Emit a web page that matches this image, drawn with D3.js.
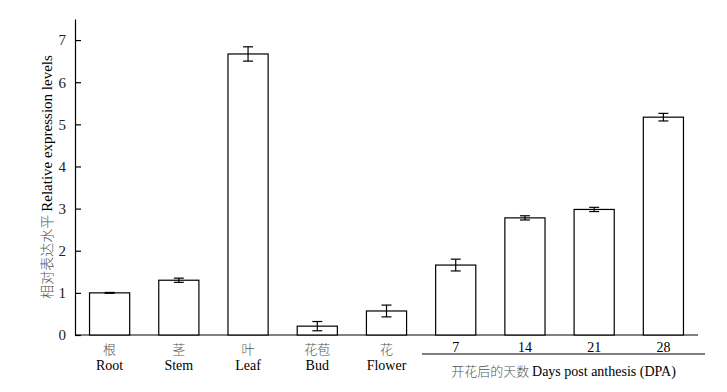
<!DOCTYPE html>
<html>
<head>
<meta charset="utf-8">
<script src="https://cdn.jsdelivr.net/npm/d3@7"></script>
<style>
  body { margin: 0; background: #fff; }
  svg text { font-family: 'Liberation Serif', 'Times New Roman', 'DejaVu Serif', serif; }
  svg text .zh, svg text.zh { font-family: 'Noto Sans CJK SC', sans-serif; font-weight: 300; }
</style>
</head>
<body>
<div id="chart"></div>
<script>
// tissues + days post anthesis
const categories = ['Root', 'Stem', 'Leaf', 'Bud', 'Flower', '7', '14', '21', '28'];
const zhLabels = ['根', '茎', '叶', '花苞', '花', '', '', '', ''];
const enLabels = ['Root', 'Stem', 'Leaf', 'Bud', 'Flower', '', '', '', ''];
const dpaLabels = ['7', '14', '21', '28'];
const values = [1.0, 1.3, 6.67, 0.21, 0.57, 1.66, 2.78, 2.98, 5.17];
const errors = [0.01, 0.05, 0.17, 0.11, 0.14, 0.14, 0.05, 0.05, 0.09];
const yTicks = [0, 1, 2, 3, 4, 5, 6, 7];

const width = 727, height = 392;
const margin = { top: 19, right: 29, bottom: 57, left: 75 };
const plotBottom = height - margin.bottom;
const serif = "'Liberation Serif', 'Times New Roman', 'DejaVu Serif', serif";

const svg = d3.select('#chart')
  .append('svg')
  .attr('width', width)
  .attr('height', height);

const x = d3.scaleBand()
  .domain(categories)
  .range([margin.left, width - margin.right])
  .paddingInner(0.42)
  .paddingOuter(0.21);

const y = d3.scaleLinear()
  .domain([0, 7.5])
  .range([plotBottom, margin.top]);

// Y axis, ticks pointing inward
const yAxis = svg.append('g')
  .attr('transform', `translate(${margin.left},0)`)
  .call(d3.axisLeft(y).tickValues(yTicks).tickSizeInner(-6).tickSizeOuter(0).tickPadding(9));
yAxis.attr('font-family', serif);
yAxis.select('.domain').attr('stroke-width', 1.2);
yAxis.selectAll('.tick line').attr('stroke-width', 1.2);
yAxis.selectAll('text')
  .style('font-size', '15px')
  .style('font-family', serif)
  .attr('fill', '#222');

// X axis baseline only
svg.append('line')
  .attr('x1', margin.left)
  .attr('x2', width - margin.right)
  .attr('y1', plotBottom)
  .attr('y2', plotBottom)
  .attr('stroke', '#000')
  .attr('stroke-width', 1.2);

// Bars
svg.selectAll('.bar')
  .data(categories)
  .enter().append('rect')
  .attr('class', 'bar')
  .attr('x', d => x(d))
  .attr('width', x.bandwidth())
  .attr('y', (d, i) => y(values[i]))
  .attr('height', (d, i) => plotBottom - y(values[i]))
  .attr('fill', '#fff')
  .attr('stroke', '#000')
  .attr('stroke-width', 1.2);

// Error bars
const cap = 5;
const eb = svg.selectAll('.err')
  .data(categories)
  .enter().append('g')
  .attr('class', 'err')
  .attr('stroke', '#000')
  .attr('stroke-width', 1.2);
eb.append('line')
  .attr('x1', d => x(d) + x.bandwidth() / 2)
  .attr('x2', d => x(d) + x.bandwidth() / 2)
  .attr('y1', (d, i) => y(values[i] + errors[i]))
  .attr('y2', (d, i) => y(values[i] - errors[i]));
eb.append('line')
  .attr('x1', d => x(d) + x.bandwidth() / 2 - cap)
  .attr('x2', d => x(d) + x.bandwidth() / 2 + cap)
  .attr('y1', (d, i) => y(values[i] + errors[i]))
  .attr('y2', (d, i) => y(values[i] + errors[i]));
eb.append('line')
  .attr('x1', d => x(d) + x.bandwidth() / 2 - cap)
  .attr('x2', d => x(d) + x.bandwidth() / 2 + cap)
  .attr('y1', (d, i) => y(values[i] - errors[i]))
  .attr('y2', (d, i) => y(values[i] - errors[i]));

// Category labels (Chinese + English)
const lab = svg.selectAll('.cat')
  .data(categories.slice(0, 5))
  .enter().append('g')
  .attr('class', 'cat');
lab.append('text')
  .attr('class', 'zh')
  .attr('x', d => x(d) + x.bandwidth() / 2)
  .attr('y', plotBottom + 19)
  .attr('text-anchor', 'middle')
  .style('font-size', '13px')
  .attr('fill', '#555')
  .text((d, i) => zhLabels[i]);
lab.append('text')
  .attr('x', d => x(d) + x.bandwidth() / 2)
  .attr('y', plotBottom + 35)
  .attr('text-anchor', 'middle')
  .style('font-size', '14px')
  .style('font-family', serif)
  .attr('fill', '#000')
  .text((d, i) => enLabels[i]);

// DPA labels
svg.selectAll('.dpa')
  .data(dpaLabels)
  .enter().append('text')
  .attr('class', 'dpa')
  .attr('x', d => x(d) + x.bandwidth() / 2)
  .attr('y', plotBottom + 17)
  .attr('text-anchor', 'middle')
  .style('font-size', '14px')
  .style('font-family', serif)
  .text(d => d);

const lineX1 = 422, lineX2 = 705;
svg.append('line')
  .attr('x1', lineX1)
  .attr('x2', lineX2)
  .attr('y1', plotBottom + 19)
  .attr('y2', plotBottom + 19)
  .attr('stroke', '#000')
  .attr('stroke-width', 1.2);

const grp = svg.append('text')
  .attr('x', (lineX1 + lineX2) / 2)
  .attr('y', plotBottom + 41)
  .attr('text-anchor', 'middle')
  .style('font-size', '14px')
  .style('font-family', serif);
grp.append('tspan')
  .attr('class', 'zh')
  .attr('fill', '#555')
  .style('font-size', '13px')
  .text('开花后的天数 ');
grp.append('tspan')
  .attr('fill', '#000')
  .text('Days post anthesis (DPA)');

// Y axis label
const yl = svg.append('text')
  .attr('transform', `translate(52,${(margin.top + plotBottom) / 2}) rotate(-90)`)
  .attr('text-anchor', 'middle')
  .style('font-size', '15px')
  .style('font-family', serif);
yl.append('tspan')
  .attr('class', 'zh')
  .attr('fill', '#555')
  .style('font-size', '14px')
  .text('相对表达水平 ');
yl.append('tspan')
  .attr('fill', '#000')
  .text('Relative expression levels');
</script>
</body>
</html>
